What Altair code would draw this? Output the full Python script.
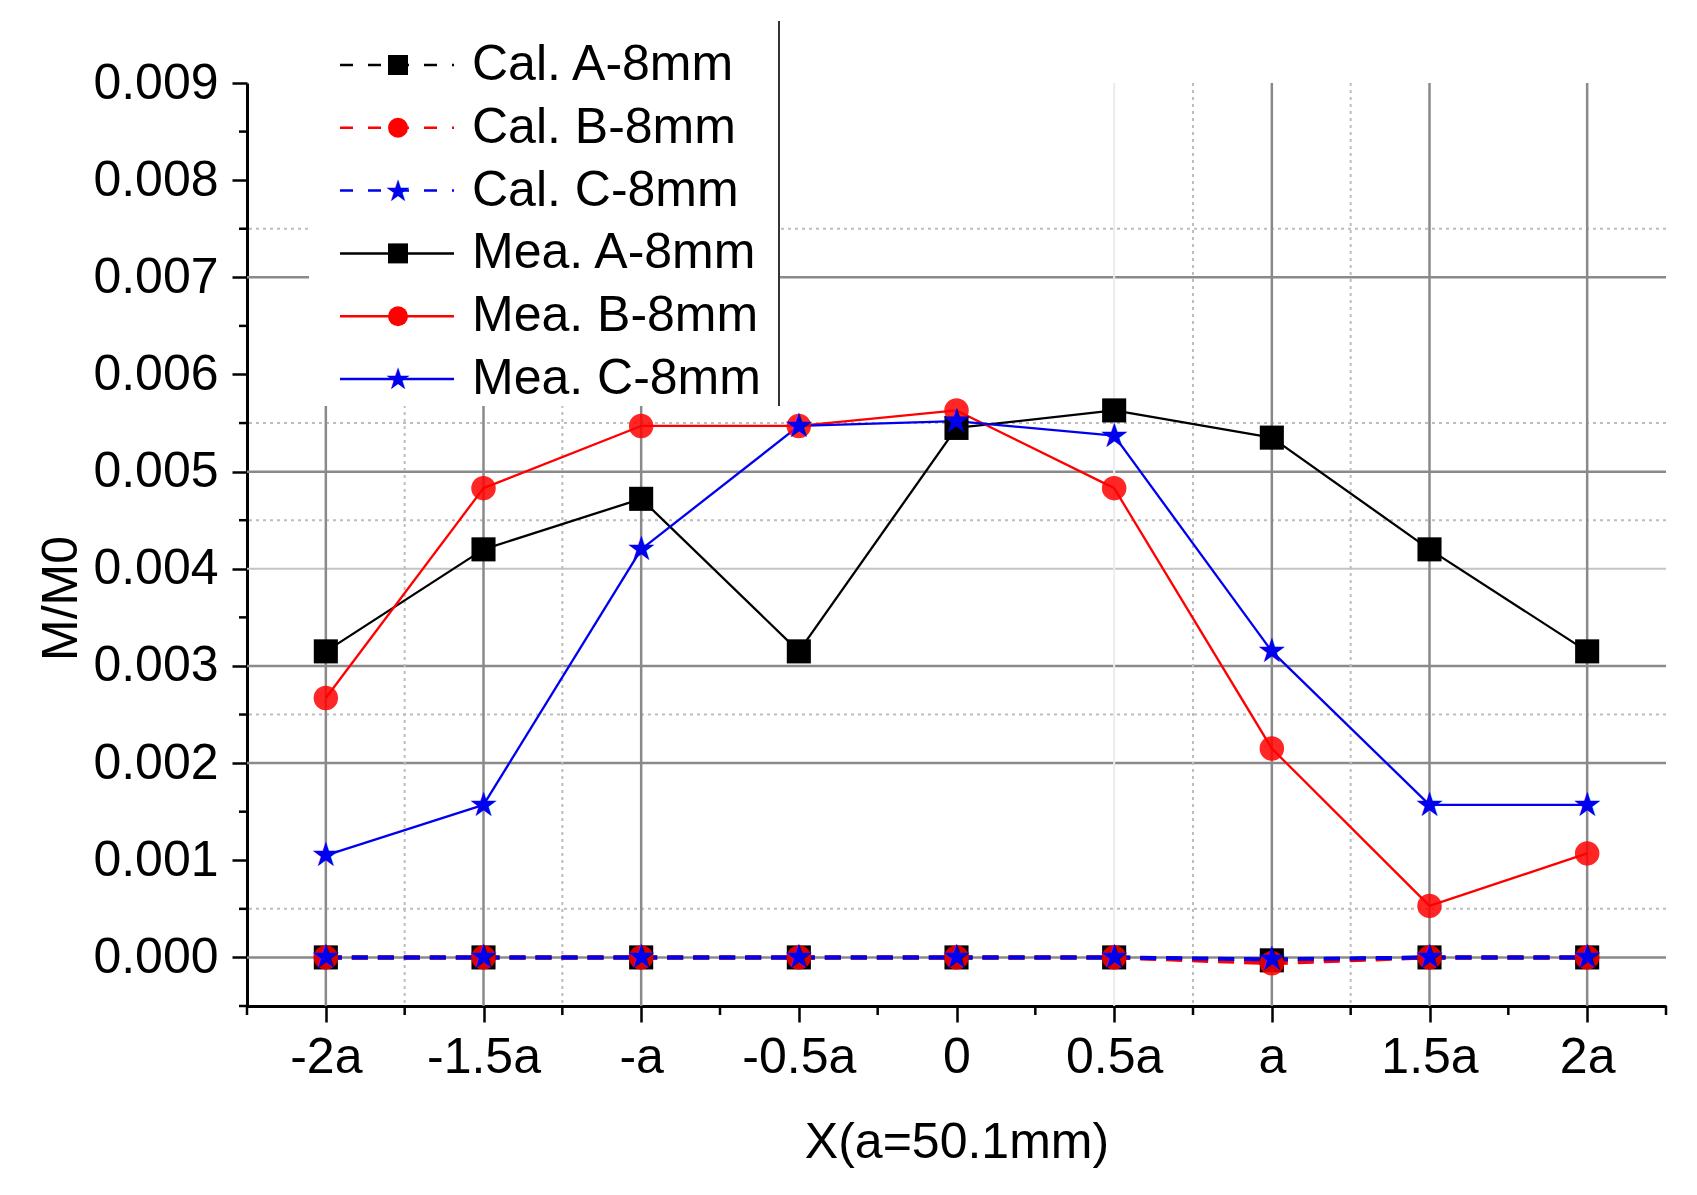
import altair as alt
import pandas as pd

font = "Liberation Sans"
fs = 50

# x positions (in units of a) and their tick labels
x_pos = [-2, -1.5, -1, -0.5, 0, 0.5, 1, 1.5, 2]
x_labels = ["-2a", "-1.5a", "-a", "-0.5a", "0", "0.5a", "a", "1.5a", "2a"]

series = ["Cal. A-8mm", "Cal. B-8mm", "Cal. C-8mm", "Mea. A-8mm", "Mea. B-8mm", "Mea. C-8mm"]
colors = ["#000000", "#ff0000", "#0000ee", "#000000", "#ff0000", "#0000ee"]
shapes = ["square", "circle", "star", "square", "circle", "star"]
styles = ["dash", "dash", "dash", "solid", "solid", "solid"]

cal_a = [0, 0, 0, 0, 0, 0, -0.00003, 0, 0]
cal_b = [0, 0, 0, 0, 0, 0, -0.00006, 0, 0]
cal_c = [0, 0, 0, 0, 0, 0, -0.00002, 0, 0]
mea_a = [0.00315, 0.0042, 0.00472, 0.00315, 0.00545, 0.00563, 0.00535, 0.0042, 0.00315]
mea_b = [0.00267, 0.00483, 0.00547, 0.00547, 0.00563, 0.00483, 0.00215, 0.00053, 0.00107]
mea_c = [0.00105, 0.00157, 0.0042, 0.00547, 0.00552, 0.00537, 0.00315, 0.00157, 0.00157]
values = [cal_a, cal_b, cal_c, mea_a, mea_b, mea_c]

# grid lines as they appear in the figure
h_major = [0.007, 0.005, 0.003, 0.002, 0.0]
h_light = [0.004]
h_minor = [0.0075, 0.0055, 0.0045, 0.0025, 0.0005]
v_major = [-2, -1.5, -1, 1, 1.5, 2]
v_light = [0.5]
v_minor = [-1.75, -1.25, 0.75, 1.25]

y_major = [0, 0.001, 0.002, 0.003, 0.004, 0.005, 0.006, 0.007, 0.008, 0.009]
y_minor = [-0.0005, 0.0005, 0.0015, 0.0025, 0.0035, 0.0045, 0.0055, 0.0065, 0.0075, 0.0085]
x_minor = [-2.25, -1.75, -1.25, -0.75, -0.25, 0.25, 0.75, 1.25, 1.75, 2.25]

W, H = 1419, 923

# points and the segments joining them
pts, segs = [], []
for name, style, shp, vals in zip(series, styles, shapes, values):
    for i, (xv, yv) in enumerate(zip(x_pos, vals)):
        pts.append({"series": name, "shape": shp, "x": float(xv), "y": float(yv)})
        if i + 1 < len(x_pos):
            segs.append({"series": name, "style": style, "x": float(xv), "y": float(yv),
                         "x2": float(x_pos[i + 1]), "y2": float(vals[i + 1])})
pts = pd.DataFrame(pts)
segs = pd.DataFrame(segs)

xs = alt.Scale(domain=[-2.25, 2.25], nice=False, zero=False)
ys = alt.Scale(domain=[-0.0005, 0.009], nice=False, zero=False)
color_scale = alt.Scale(domain=series, range=colors)

label_expr = " : ".join(f"datum.value == {v} ? '{l}'" for v, l in zip(x_pos, x_labels)) + " : ''"

x_axis = alt.Axis(values=x_pos, labelExpr=label_expr, grid=False,
                  tickSize=16, tickWidth=2.5, tickColor="black",
                  domainWidth=3, domainColor="black",
                  labelFont=font, labelFontSize=fs, labelColor="black", labelPadding=10,
                  labelFlush=False,
                  title="X(a=50.1mm)", titleFont=font, titleFontSize=fs,
                  titleFontWeight="normal", titleColor="black",
                  titleY=151, titleBaseline="alphabetic")
y_axis = alt.Axis(values=y_major, format=".3f", grid=False,
                  tickSize=15, tickWidth=2.5, tickColor="black",
                  domainWidth=3, domainColor="black",
                  labelFont=font, labelFontSize=fs, labelColor="black", labelPadding=14,
                  labelFlush=False,
                  title="M/M0", titleFont=font, titleFontSize=fs,
                  titleFontWeight="normal", titleColor="black",
                  titleAngle=270, titleX=-186, titleY=515,
                  titleAlign="center", titleBaseline="middle")


def hrules(vals, color, dash, width=2):
    return alt.Chart(pd.DataFrame({"v": vals})).mark_rule(
        color=color, strokeDash=dash, strokeWidth=width).encode(
        y=alt.Y("v:Q", scale=ys))


def vrules(vals, color, dash, width=2):
    return alt.Chart(pd.DataFrame({"v": vals})).mark_rule(
        color=color, strokeDash=dash, strokeWidth=width).encode(
        x=alt.X("v:Q", scale=xs))


grid = [
    hrules(h_minor, "#bdbdbd", [3, 4]),
    hrules(h_light, "#c4c4c4", [1, 0]),
    hrules(h_major, "#8a8a8a", [1, 0], 2.5),
    vrules(v_minor, "#bdbdbd", [3, 4]),
    vrules(v_light, "#ececec", [1, 0]),
    vrules(v_major, "#8a8a8a", [1, 0], 2.5),
]

# minor ticks on both axes
x_minor_ticks = alt.Chart(pd.DataFrame({"v": x_minor})).mark_rule(
    color="black", strokeWidth=2.5).encode(
    x=alt.X("v:Q", scale=xs), y=alt.value(H), y2=alt.value(H + 9))
y_minor_ticks = alt.Chart(pd.DataFrame({"v": y_minor})).mark_rule(
    color="black", strokeWidth=2.5).encode(
    y=alt.Y("v:Q", scale=ys), x=alt.value(0), x2=alt.value(-8))

seg_base = alt.Chart(segs).encode(
    x=alt.X("x:Q", scale=xs, axis=x_axis),
    y=alt.Y("y:Q", scale=ys, axis=y_axis),
    x2="x2:Q", y2="y2:Q",
    color=alt.Color("series:N", scale=color_scale, legend=None),
)
cal_lines = seg_base.mark_rule(strokeWidth=4, strokeDash=[16, 10]).transform_filter(
    alt.datum.style == "dash")
mea_lines = seg_base.mark_rule(strokeWidth=2.3).transform_filter(
    alt.datum.style == "solid")

pt_base = alt.Chart(pts).encode(
    x=alt.X("x:Q", scale=xs), y=alt.Y("y:Q", scale=ys),
    color=alt.Color("series:N", scale=color_scale, legend=None),
)
squares = pt_base.mark_point(filled=True, shape="square", size=580, opacity=1).transform_filter(
    alt.datum.shape == "square")
circles = pt_base.mark_point(filled=True, shape="circle", size=600, opacity=0.85).transform_filter(
    alt.datum.shape == "circle")
stars = pt_base.mark_text(text="★", font="DejaVu Sans", fontSize=34, align="center",
                          baseline="middle", dy=1).transform_filter(alt.datum.shape == "star")

# legend box in the top-left corner (pixel positions relative to the plot)
one = pd.DataFrame({"a": [0]})
leg_box = alt.Chart(one).mark_rect(fill="white").encode(
    x=alt.value(62), x2=alt.value(532), y=alt.value(-62), y2=alt.value(323))
leg_border = alt.Chart(one).mark_rule(color="#333333", strokeWidth=2).encode(
    x=alt.value(532), y=alt.value(-62), y2=alt.value(323))

legend_layers = [leg_box, leg_border]
for i, (name, col, shp, style) in enumerate(zip(series, colors, shapes, styles)):
    yy = -18 + i * 62.8
    dash = [13, 15] if style == "dash" else [1, 0]
    legend_layers.append(alt.Chart(one).mark_rule(
        color=col, strokeWidth=2.5, strokeDash=dash).encode(
        x=alt.value(93), x2=alt.value(207), y=alt.value(yy)))
    if shp == "star":
        legend_layers.append(alt.Chart(one).mark_text(
            text="★", font="DejaVu Sans", fontSize=30, color=col, align="center",
            baseline="middle", dy=1).encode(x=alt.value(151), y=alt.value(yy)))
    else:
        legend_layers.append(alt.Chart(one).mark_point(
            filled=True, shape=shp, size=400, color=col, opacity=1).encode(
            x=alt.value(151), y=alt.value(yy)))
    legend_layers.append(alt.Chart(one).mark_text(
        text=name, align="left", baseline="middle", font=font, fontSize=fs,
        color="black").encode(x=alt.value(225), y=alt.value(yy)))

chart = alt.layer(*grid, x_minor_ticks, y_minor_ticks, cal_lines, mea_lines,
                  squares, circles, stars, *legend_layers).properties(
    width=W, height=H,
    autosize=alt.AutoSizeParams(type="none"),
    padding={"left": 239, "top": 75, "right": 10, "bottom": 180},
).configure_view(strokeWidth=0).configure_axis(grid=False)

chart.save("out.html", embed_options={"renderer": "svg", "actions": False})
